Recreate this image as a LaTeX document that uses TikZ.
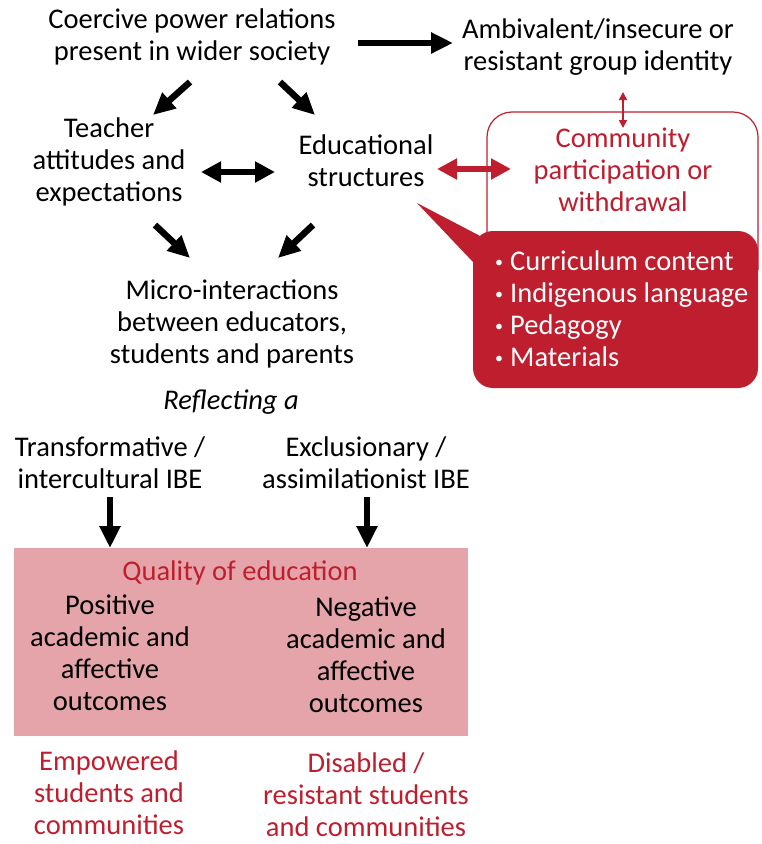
\documentclass[tikz,border=0pt]{standalone}
\usepackage{fontspec}
\setmainfont{Carlito}
\usetikzlibrary{arrows.meta}
\definecolor{ured}{HTML}{BE1E2D}
\definecolor{upink}{HTML}{E5A4AA}
\newcommand\mybul{\makebox[15pt][l]{\raisebox{0.22ex}{\fontsize{16}{16}\selectfont\textbullet}}}
\begin{document}
\begin{tikzpicture}[x=1pt,y=-1pt,
  txt/.style={align=center,font=\fontsize{28.5}{32}\selectfont,inner sep=0pt},
  rtxt/.style={txt,text=ured},
  wtxt/.style={align=left,font=\fontsize{28.5}{32}\selectfont,inner sep=0pt,text=white},
  bigarrow/.style={line width=6.5pt,-{Triangle[length=22pt,width=20pt]}},
  dblarrow/.style={line width=6.5pt,{Triangle[length=20pt,width=20pt]}-{Triangle[length=20pt,width=20pt]}},
  thinarrow/.style={line width=1.6pt,{Triangle[length=8pt,width=8pt]}-{Triangle[length=8pt,width=8pt]}}
]
\useasboundingbox (0,0) rectangle (761,844);

% boxes
\fill[upink] (14,548) rectangle (468,736);
\draw[ured,line width=1.2pt,rounded corners=25pt] (487,270) -- (487,112) -- (758,112) -- (758,270);
\fill[ured,rounded corners=20pt] (473,231) rectangle (758,388);
\fill[ured] (417,203) -- (484,238) -- (473,262) -- cycle;

% texts
\node[txt] (coer) at (192,37) {Coercive power relations\\present in wider society};
\node[txt] (amb) at (598,47) {Ambivalent/insecure or\\resistant group identity};
\node[txt] (teach) at (109,162) {Teacher\\attitudes and\\expectations};
\node[txt] (edu) at (366,161) {Educational\\structures};
\node[txt] (micro) at (232,324) {Micro-interactions\\between educators,\\students and parents};
\node[txt,font=\fontsize{28.5}{32}\selectfont\itshape] (refl) at (231,402) {Reflecting a};
\node[txt] (trans) at (110,463) {Transformative /\\intercultural IBE};
\node[txt] (excl) at (366,463) {Exclusionary /\\assimilationist IBE};
\node[rtxt] (qual) at (240,573) {Quality of education};
\node[txt] (pos) at (110,653) {Positive\\academic and\\affective\\outcomes};
\node[txt] (neg) at (366,655) {Negative\\academic and\\affective\\outcomes};
\node[rtxt] (emp) at (109,793) {Empowered\\students and\\communities};
\node[rtxt] (dis) at (366,795) {Disabled /\\resistant students\\and communities};
\node[rtxt] (comm) at (623,170) {Community\\participation or\\withdrawal};
\node[wtxt,anchor=west] (bul) at (495,309) {\mybul Curriculum content\\\mybul Indigenous language\\\mybul Pedagogy\\\mybul Materials};

% arrow end points
\coordinate (h1) at (358,43);  \coordinate (h2) at (453,43);
\coordinate (a1) at (190,82);  \coordinate (a2) at (153,115);
\coordinate (b1) at (280,82);  \coordinate (b2) at (315,115);
\coordinate (c1) at (155,225); \coordinate (c2) at (190,258);
\coordinate (d1) at (313,225); \coordinate (d2) at (278,258);
\coordinate (e1) at (201,172); \coordinate (e2) at (275,172);
\coordinate (f1) at (437,169); \coordinate (f2) at (511,169);
\coordinate (g1) at (623,92);  \coordinate (g2) at (623,128);
\coordinate (t1) at (110,497); \coordinate (t2) at (110,548);
\coordinate (x1) at (367,497); \coordinate (x2) at (367,548);

\draw[bigarrow] (h1) -- (h2);
\draw[bigarrow] (a1) -- (a2);
\draw[bigarrow] (b1) -- (b2);
\draw[bigarrow] (c1) -- (c2);
\draw[bigarrow] (d1) -- (d2);
\draw[dblarrow] (e1) -- (e2);
\draw[dblarrow,ured] (f1) -- (f2);
\draw[thinarrow,ured] (g1) -- (g2);
\draw[bigarrow] (t1) -- (t2);
\draw[bigarrow] (x1) -- (x2);
\end{tikzpicture}
\end{document}
